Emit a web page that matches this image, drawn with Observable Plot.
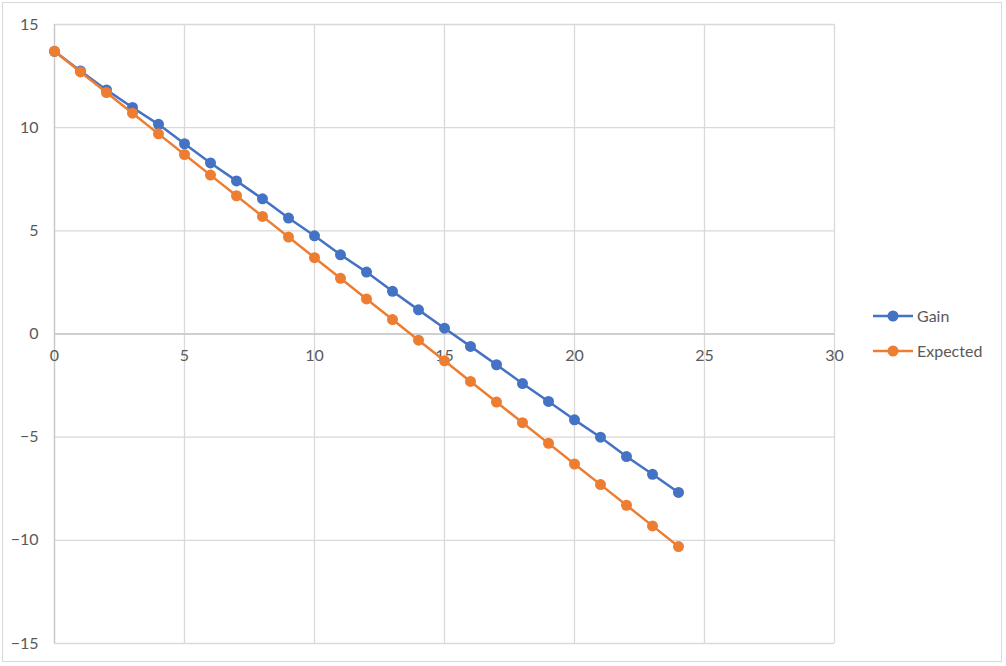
<!DOCTYPE html>
<html>
<head>
<meta charset="utf-8">
<script src="https://cdn.jsdelivr.net/npm/d3@7"></script>
<script src="https://cdn.jsdelivr.net/npm/@observablehq/plot@0.6"></script>
<style>
  html, body { margin: 0; padding: 0; background: #fff; }
  #wrap { position: relative; width: 1006px; height: 666px; font-family: Lato, "Open Sans", sans-serif; }
  #border { position: absolute; left: 2px; top: 2px; width: 1000px; height: 660px; border: 1px solid #d9d9d9; box-sizing: border-box; pointer-events: none; }
  #legend { position: absolute; left: 873px; top: 298px; font-size: 16px; color: #595959; }
  .item { display: flex; align-items: center; height: 35px; }
  .item svg { margin-right: 4px; }
</style>
</head>
<body>
<div id="wrap"><div id="chart"></div><div id="border"></div><div id="legend"></div></div>
<script>
const xs = [0,1,2,3,4,5,6,7,8,9,10,11,12,13,14,15,16,17,18,19,20,21,22,23,24];
const gain = [13.7,12.75,11.83,10.98,10.16,9.22,8.29,7.42,6.55,5.62,4.76,3.84,3.0,2.07,1.17,0.28,-0.6,-1.49,-2.4,-3.27,-4.16,-5.0,-5.94,-6.8,-7.68];
const expected = [13.7,12.7,11.7,10.7,9.7,8.7,7.7,6.7,5.7,4.7,3.7,2.7,1.7,0.7,-0.3,-1.3,-2.3,-3.3,-4.3,-5.3,-6.3,-7.3,-8.3,-9.3,-10.3];
const seriesNames = ["Gain", "Expected"];
const seriesColors = ["#4472C4", "#ED7D31"];
const xTicks = [0,5,10,15,20,25,30];
const yTicks = [-15,-10,-5,0,5,10,15];

const gainData = xs.map((x, i) => ({x, y: gain[i]}));
const expData = xs.map((x, i) => ({x, y: expected[i]}));

const chart = Plot.plot({
  width: 1006,
  height: 666,
  marginLeft: 54,
  marginRight: 172,
  marginTop: 24,
  marginBottom: 23,
  style: {fontFamily: 'Lato, "Open Sans", sans-serif', fontSize: "16px", color: "#595959", background: "transparent"},
  x: {domain: [0, 30], axis: null},
  y: {domain: [-15, 15]},
  marks: [
    Plot.gridX(xTicks, {stroke: "#d9d9d9", strokeOpacity: 1, strokeWidth: 1.3}),
    Plot.gridY(yTicks, {stroke: "#d9d9d9", strokeOpacity: 1, strokeWidth: 1.3}),
    Plot.ruleY([0], {stroke: "#c8c8c8", strokeWidth: 1.3}),
    Plot.ruleX([0], {stroke: "#c8c8c8", strokeWidth: 1.3}),
    Plot.axisY(yTicks, {tickSize: 0, tickPadding: 16, label: null, fill: "#595959", fontSize: 16}),
    Plot.text(xTicks, {x: d => d, y: 0, dy: 22, text: d => String(d), fill: "#595959", fontSize: 16}),
    Plot.line(gainData, {x: "x", y: "y", stroke: seriesColors[0], strokeWidth: 2.5}),
    Plot.dot(gainData, {x: "x", y: "y", r: 5.5, fill: seriesColors[0]}),
    Plot.line(expData, {x: "x", y: "y", stroke: seriesColors[1], strokeWidth: 2.5}),
    Plot.dot(expData, {x: "x", y: "y", r: 5.5, fill: seriesColors[1]})
  ]
});
document.getElementById("chart").appendChild(chart);

const legend = document.getElementById("legend");
seriesNames.forEach((name, i) => {
  const item = document.createElement("div");
  item.className = "item";
  item.innerHTML = `<svg width="40" height="14"><line x1="0" y1="7" x2="40" y2="7" stroke="${seriesColors[i]}" stroke-width="2.5"/><circle cx="20" cy="7" r="5.5" fill="${seriesColors[i]}"/></svg><span>${name}</span>`;
  legend.appendChild(item);
});
</script>
</body>
</html>
